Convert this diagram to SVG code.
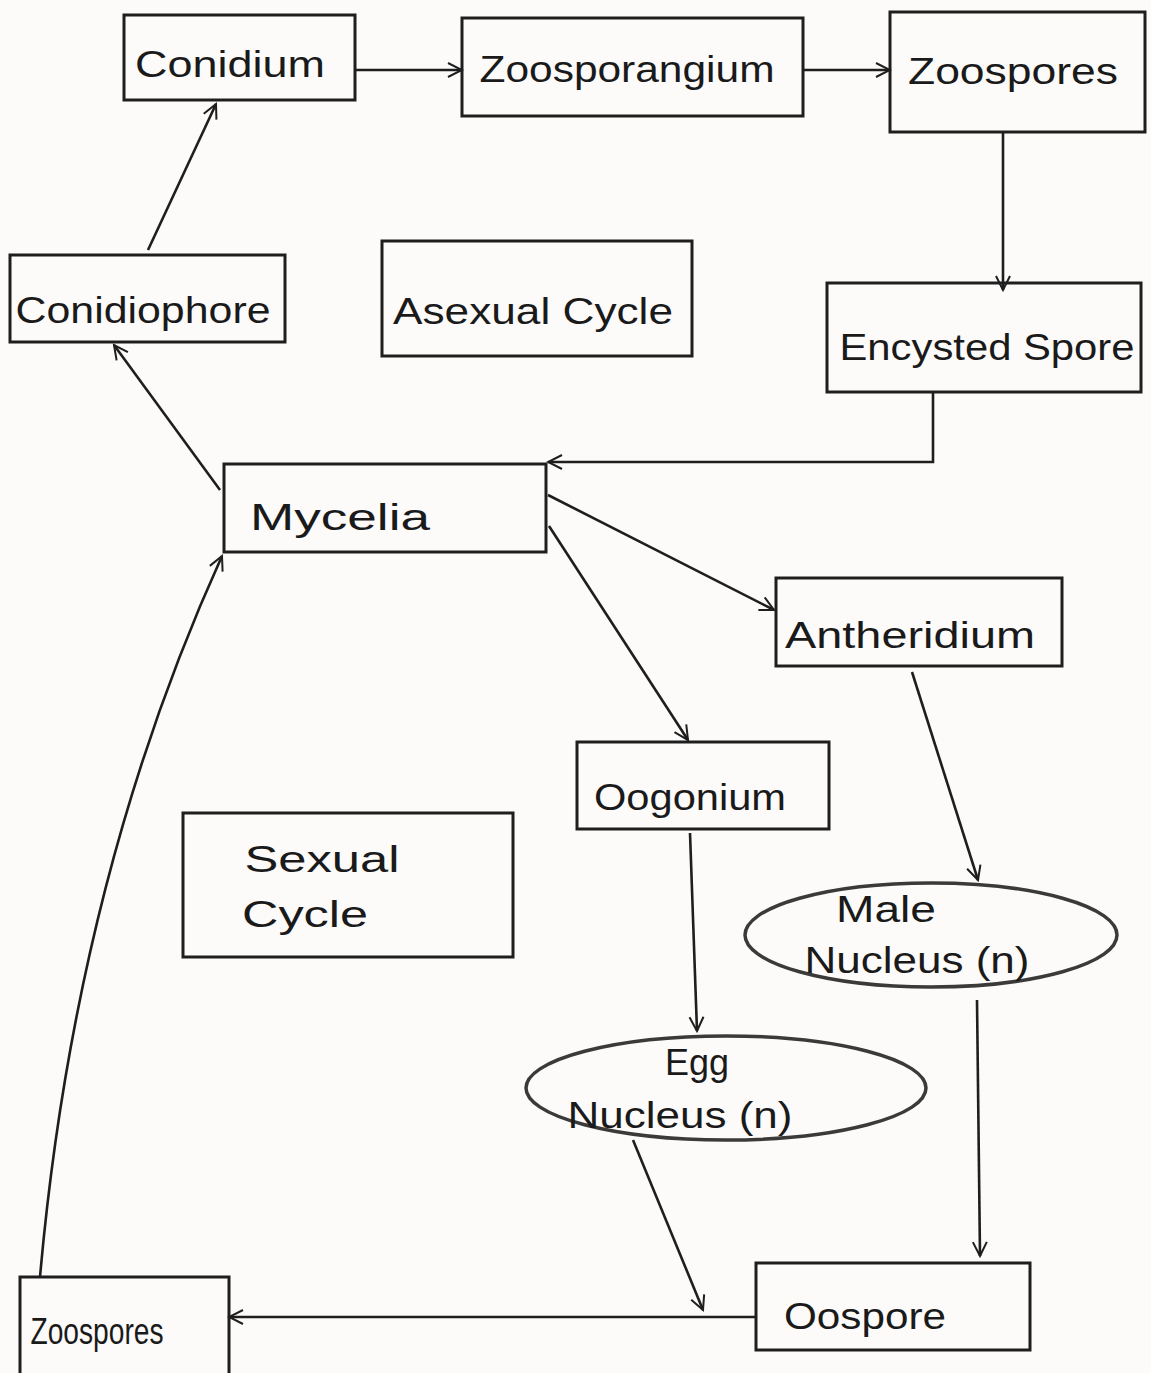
<svg xmlns="http://www.w3.org/2000/svg" width="1151" height="1373" viewBox="0 0 1151 1373">
<defs>
<style>
.box{fill:none;stroke:#1e1e1e;stroke-width:3}
.ell{fill:none;stroke:#3a3a3a;stroke-width:3.5}
.con{fill:none;stroke:#1e1e1e;stroke-width:2.6}
text{font-family:"Liberation Sans","DejaVu Sans",sans-serif;fill:#1a1a1a;font-size:36px;text-anchor:middle}
</style>
<marker id="arr" viewBox="0 0 20 20" refX="18" refY="10" markerWidth="20" markerHeight="20" markerUnits="userSpaceOnUse" orient="auto">
<polyline points="4,3 18,10 4,17" fill="none" stroke="#1e1e1e" stroke-width="2"/>
</marker>
</defs>
<rect width="1151" height="1373" fill="#fcfbfa"/>
<g id="conidium"><rect class="box" x="124" y="15" width="231" height="85"/><text x="230" y="77" textLength="190" lengthAdjust="spacingAndGlyphs">Conidium</text></g>
<g id="zoosporangium"><rect class="box" x="462" y="18" width="341" height="98"/><text x="627" y="82" textLength="295" lengthAdjust="spacingAndGlyphs">Zoosporangium</text></g>
<g id="zoospores-top"><rect class="box" x="890" y="12" width="255" height="120"/><text x="1013" y="84" textLength="210" lengthAdjust="spacingAndGlyphs">Zoospores</text></g>
<g id="conidiophore"><rect class="box" x="10" y="255" width="275" height="87"/><text x="143" y="323" font-size="32" textLength="255" lengthAdjust="spacingAndGlyphs">Conidiophore</text></g>
<g id="asexual-cycle"><rect class="box" x="382" y="241" width="310" height="115"/><text x="533" y="324" textLength="280" lengthAdjust="spacingAndGlyphs">Asexual Cycle</text></g>
<g id="encysted-spore"><rect class="box" x="827" y="283" width="314" height="109"/><text x="987" y="360" font-size="34" textLength="295" lengthAdjust="spacingAndGlyphs">Encysted Spore</text></g>
<g id="mycelia"><rect class="box" x="224" y="464" width="322" height="88"/><text x="340" y="530" textLength="180" lengthAdjust="spacingAndGlyphs">Mycelia</text></g>
<g id="antheridium"><rect class="box" x="776" y="578" width="286" height="88"/><text x="910" y="648" textLength="250" lengthAdjust="spacingAndGlyphs">Antheridium</text></g>
<g id="oogonium"><rect class="box" x="577" y="742" width="252" height="87"/><text x="690" y="810" textLength="192" lengthAdjust="spacingAndGlyphs">Oogonium</text></g>
<g id="sexual-cycle"><rect class="box" x="183" y="813" width="330" height="144"/><text x="322" y="872" textLength="155" lengthAdjust="spacingAndGlyphs">Sexual</text><text x="305" y="927" textLength="126" lengthAdjust="spacingAndGlyphs">Cycle</text></g>
<g id="male-nucleus"><ellipse class="ell" cx="931" cy="935" rx="186" ry="52"/><text x="886" y="922" font-size="32" textLength="100" lengthAdjust="spacingAndGlyphs">Male</text><text x="917" y="973" font-size="32" textLength="225" lengthAdjust="spacingAndGlyphs">Nucleus (n)</text></g>
<g id="egg-nucleus"><ellipse class="ell" cx="726" cy="1088" rx="200" ry="52"/><text x="697" y="1075" font-size="32">Egg</text><text x="680" y="1128" font-size="32" textLength="225" lengthAdjust="spacingAndGlyphs">Nucleus (n)</text></g>
<g id="oospore"><rect class="box" x="756" y="1263" width="274" height="87"/><text x="865" y="1329" textLength="162" lengthAdjust="spacingAndGlyphs">Oospore</text></g>
<g id="zoospores-bottom"><rect class="box" x="20" y="1277" width="209" height="100"/><text x="97" y="1344" font-size="24" textLength="133" lengthAdjust="spacingAndGlyphs">Zoospores</text></g>
<g id="connectors">
<line class="con" x1="355" y1="70" x2="462" y2="70" marker-end="url(#arr)"/>
<line class="con" x1="803" y1="70" x2="890" y2="70" marker-end="url(#arr)"/>
<line class="con" x1="1003" y1="132" x2="1003" y2="290" marker-end="url(#arr)"/>
<polyline class="con" points="933,392 933,462 548,462" marker-end="url(#arr)"/>
<line class="con" x1="220" y1="490" x2="114" y2="345" marker-end="url(#arr)"/>
<line class="con" x1="148" y1="250" x2="216" y2="104" marker-end="url(#arr)"/>
<line class="con" x1="548" y1="495" x2="774" y2="610" marker-end="url(#arr)"/>
<line class="con" x1="549" y1="526" x2="688" y2="740" marker-end="url(#arr)"/>
<line class="con" x1="912" y1="672" x2="978" y2="880" marker-end="url(#arr)"/>
<line class="con" x1="690" y1="833" x2="697" y2="1031" marker-end="url(#arr)"/>
<line class="con" x1="977" y1="1000" x2="980" y2="1256" marker-end="url(#arr)"/>
<line class="con" x1="633" y1="1140" x2="703" y2="1310" marker-end="url(#arr)"/>
<line class="con" x1="756" y1="1317" x2="229" y2="1317" marker-end="url(#arr)"/>
<path class="con" d="M40,1277 Q75,880 222,556" marker-end="url(#arr)"/>
</g>
</svg>
